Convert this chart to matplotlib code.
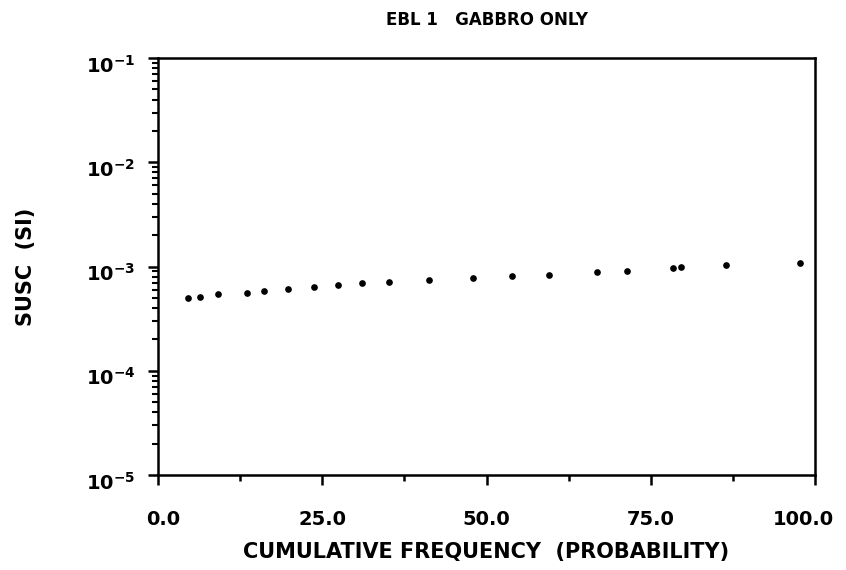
import math
import matplotlib
matplotlib.use("Agg")
import matplotlib.pyplot as plt
import matplotlib.transforms as mtransforms
from matplotlib.ticker import FixedLocator, FuncFormatter, LogLocator, NullFormatter

# Cumulative frequency (%) and susceptibility (SI) for the gabbro samples
cum_freq = [4.6, 6.4, 9.1, 13.5, 16.1, 19.8, 23.7, 27.4, 31.1, 35.2,
            41.2, 47.9, 53.9, 59.5, 66.8, 71.4, 78.4, 79.6, 86.5, 97.7]
susc = [4.99e-4, 5.10e-4, 5.44e-4, 5.57e-4, 5.82e-4, 6.08e-4, 6.36e-4, 6.65e-4,
        6.95e-4, 7.10e-4, 7.42e-4, 7.76e-4, 8.10e-4, 8.28e-4, 8.85e-4, 9.05e-4,
        9.70e-4, 9.90e-4, 1.03e-3, 1.08e-3]

x_major = [0, 25, 50, 75, 100]
x_minor = [12.5, 37.5, 62.5, 87.5]
x_labels = ["0.0", "25.0", "50.0", "75.0", "100.0"]
y_decades = [1e-5, 1e-4, 1e-3, 1e-2, 1e-1]

title = "EBL 1   GABBRO ONLY"
xlabel = "CUMULATIVE FREQUENCY  (PROBABILITY)"
ylabel = "SUSC  (SI)"

plt.rcParams['font.family'] = ['DejaVu Sans']
plt.rcParams['mathtext.fontset'] = 'dejavusans'

fig = plt.figure(figsize=(8.46, 5.70), dpi=100)
ax = fig.add_axes([0.1868, 0.1667, 0.7766, 0.7315])

ax.plot(cum_freq, susc, linestyle='none', marker='o', ms=3.8, color='black')

ax.set_yscale('log')
ax.set_xlim(0, 100)
ax.set_ylim(1e-5, 1e-1)

for s in ax.spines.values():
    s.set_linewidth(1.8)
    s.set_color('black')

ax.xaxis.set_major_locator(FixedLocator(x_major))
ax.xaxis.set_minor_locator(FixedLocator(x_minor))
ax.set_xticklabels(x_labels, fontsize=14, fontweight='bold')
ax.tick_params(axis='x', which='major', direction='out', length=7.5, width=1.8, pad=18)
ax.tick_params(axis='x', which='minor', direction='out', length=4.5, width=1.8)

# nudge the end labels inward so they stay clear of the figure edge
xlabs = ax.get_xticklabels()
xlabs[0].set_transform(xlabs[0].get_transform() +
                       mtransforms.ScaledTranslation(5 / 100, 0, fig.dpi_scale_trans))
xlabs[-1].set_transform(xlabs[-1].get_transform() +
                        mtransforms.ScaledTranslation(-12 / 100, 0, fig.dpi_scale_trans))

ax.yaxis.set_major_locator(FixedLocator(y_decades))
ax.yaxis.set_major_formatter(FuncFormatter(
    lambda v, pos: r'$\mathbf{10^{%d}}$' % round(math.log10(v))))
ax.yaxis.set_minor_locator(LogLocator(base=10, subs=range(2, 10), numticks=20))
ax.yaxis.set_minor_formatter(NullFormatter())
ax.tick_params(axis='y', which='major', direction='out', length=7.5, width=1.8,
               pad=9, labelsize=14)
ax.tick_params(axis='y', which='minor', direction='out', length=4.5, width=1.5)

# keep the mantissa of each power label level with its tick
shift = mtransforms.ScaledTranslation(0, -4 / 72, fig.dpi_scale_trans)
for lab in ax.get_yticklabels():
    lab.set_transform(lab.get_transform() + shift)

ax.set_title(title, fontsize=12, fontweight='bold', pad=24)
ax.set_xlabel(xlabel, fontsize=15, fontweight='bold', labelpad=9)
ax.set_ylabel(ylabel, fontsize=15, fontweight='bold', labelpad=36)

fig.savefig('out.png', dpi=100, facecolor='white')
